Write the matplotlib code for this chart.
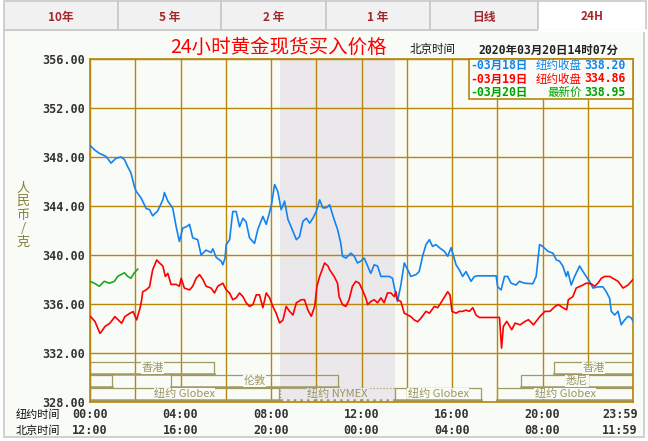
import matplotlib
matplotlib.use("Agg")
import matplotlib.pyplot as plt
from matplotlib.patches import Rectangle
from matplotlib.transforms import blended_transform_factory

plt.rcParams['font.family'] = ['Noto Sans CJK SC', 'DejaVu Sans']

# 03月18日 (blue), hours of New York time
t_blue = [0.00, 0.19, 0.41, 0.71, 0.93, 1.15, 1.37, 1.52, 1.67, 1.81, 1.96, 2.04, 2.26, 2.48, 2.63,
          2.77, 2.99, 3.22, 3.29, 3.44, 3.66, 3.81, 3.95, 4.10, 4.25, 4.40, 4.54, 4.76, 4.91, 5.13,
          5.35, 5.43, 5.58, 5.80, 5.87, 5.97, 6.02, 6.17, 6.31, 6.46, 6.61, 6.76, 6.90, 7.05, 7.27,
          7.42, 7.64, 7.79, 8.01, 8.16, 8.30, 8.45, 8.60, 8.75, 8.89, 9.12, 9.26, 9.41, 9.56, 9.71,
          9.85, 10.00, 10.15, 10.29, 10.44, 10.59, 10.79, 10.94, 11.08, 11.16, 11.31, 11.53, 11.68,
          11.82, 11.97, 12.12, 12.27, 12.41, 12.56, 12.71, 12.86, 13.08, 13.23, 13.37, 13.52, 13.59,
          13.74, 13.89, 14.04, 14.18, 14.41, 14.55, 14.70, 14.85, 15.00, 15.14, 15.29, 15.44, 15.66,
          15.81, 15.96, 16.03, 16.18, 16.32, 16.47, 16.62, 16.84, 16.99, 17.14, 17.95, 18.02, 18.17,
          18.32, 18.46, 18.61, 18.83, 18.98, 19.20, 19.57, 19.72, 19.87, 20.01, 20.24, 20.46, 20.61,
          20.75, 20.90, 21.05, 21.12, 21.27, 21.42, 21.64, 21.79, 21.93, 22.08, 22.23, 22.45, 22.67,
          22.82, 22.97, 23.04, 23.19, 23.34, 23.48, 23.63, 23.78, 23.93, 24.00]
v_blue = [348.95, 348.6, 348.3, 348.05, 347.5, 347.9, 348.0, 347.8, 347.2, 346.7, 345.6, 345.2, 344.65,
          343.8, 343.7, 343.2, 343.6, 344.5, 345.1, 344.4, 343.8, 342.3, 341.1, 342.2, 342.3, 342.5,
          341.4, 341.25, 340.0, 340.4, 340.2, 340.5, 339.8, 339.5, 339.2, 339.75, 340.85, 341.25,
          343.55, 343.55, 342.3, 343.0, 342.7, 341.4, 340.95, 342.1, 343.15, 342.5, 344.0, 345.75,
          345.2, 343.7, 344.4, 342.9, 342.3, 341.25, 341.5, 342.75, 343.0, 342.6, 343.0, 343.55,
          344.5, 343.85, 343.85, 344.1, 342.9, 342.1, 341.0, 339.9, 339.75, 340.15, 339.9, 339.35,
          339.5, 339.75, 339.1, 338.5, 339.2, 339.1, 338.25, 338.25, 338.25, 338.1, 336.75, 336.2,
          337.55, 339.35, 338.8, 338.25, 338.4, 338.65, 339.9, 340.85, 341.25, 340.7, 340.85, 340.6,
          340.3, 339.9, 340.6, 340.15, 339.2, 338.8, 338.25, 338.65, 337.85, 338.25, 338.3, 338.3,
          337.4, 337.15, 338.25, 338.25, 337.7, 337.55, 337.85, 337.7, 337.65, 338.25, 340.85, 340.7,
          340.3, 340.15, 339.6, 339.5, 339.1, 338.25, 338.65, 337.55, 338.25, 339.1, 338.65, 338.25,
          337.85, 337.3, 337.4, 337.4, 337.0, 336.45, 335.4, 335.1, 335.4, 334.3, 334.7, 335.0,
          334.85, 334.6]

# 03月19日 (red)
t_red = [0.03, 0.22, 0.44, 0.51, 0.66, 0.88, 1.10, 1.25, 1.40, 1.54, 1.76, 1.91, 2.06, 2.21, 2.28,
         2.33, 2.48, 2.63, 2.77, 2.95, 3.07, 3.22, 3.33, 3.44, 3.58, 3.81, 3.95, 4.03, 4.17, 4.40,
         4.54, 4.69, 4.84, 4.99, 5.13, 5.35, 5.50, 5.65, 5.87, 6.02, 6.17, 6.31, 6.46, 6.61, 6.76,
         6.90, 7.05, 7.20, 7.35, 7.49, 7.64, 7.79, 7.94, 8.08, 8.23, 8.38, 8.53, 8.67, 8.82, 8.97,
         9.12, 9.34, 9.48, 9.63, 9.78, 9.93, 10.03, 10.15, 10.37, 10.52, 10.59, 10.79, 10.94, 11.01,
         11.16, 11.31, 11.45, 11.60, 11.75, 11.90, 12.04, 12.19, 12.27, 12.41, 12.56, 12.71, 12.86,
         13.00, 13.15, 13.30, 13.45, 13.52, 13.59, 13.74, 13.89, 14.04, 14.18, 14.33, 14.48, 14.63,
         14.85, 15.00, 15.22, 15.37, 15.51, 15.73, 15.81, 15.91, 16.00, 16.18, 16.32, 16.47, 16.62,
         16.77, 16.92, 17.06, 17.21, 18.10, 18.19, 18.27, 18.42, 18.64, 18.79, 19.01, 19.23, 19.38,
         19.60, 19.89, 20.11, 20.33, 20.55, 20.70, 20.92, 21.07, 21.14, 21.34, 21.49, 21.79, 21.93,
         22.15, 22.30, 22.45, 22.60, 22.75, 22.97, 23.11, 23.34, 23.56, 23.78, 23.93, 24.00]
v_red = [334.97, 334.57, 333.6, 333.75, 334.16, 334.43, 334.97, 334.7, 334.43, 334.97, 335.24, 335.38,
         334.7, 335.65, 336.3, 337.0, 337.15, 337.4, 338.8, 339.6, 339.35, 339.1, 338.25, 338.5, 337.6,
         337.6, 337.45, 338.1, 337.3, 337.15, 337.45, 338.1, 338.4, 338.0, 337.45, 337.3, 336.9,
         337.45, 337.7, 337.15, 336.9, 336.35, 336.5, 336.9, 336.6, 336.1, 335.8, 335.95, 336.75,
         336.75, 335.7, 336.9, 336.5, 335.8, 335.25, 334.45, 334.7, 335.8, 335.4, 335.1, 336.1,
         336.35, 336.35, 335.5, 335.0, 335.8, 337.45, 338.25, 339.35, 339.1, 338.8, 338.25, 337.7,
         336.6, 335.95, 335.8, 336.35, 337.45, 337.85, 337.7, 337.15, 336.5, 335.95, 336.2, 336.35,
         336.1, 336.5, 336.1, 336.9, 336.9, 336.6, 337.0, 336.35, 336.2, 335.25, 335.1, 334.97,
         334.7, 334.55, 334.85, 335.4, 335.25, 335.8, 335.7, 336.1, 336.75, 337.0, 336.75, 335.4,
         335.25, 335.4, 335.4, 335.5, 335.4, 335.7, 335.1, 334.9, 334.9, 332.4, 334.17, 334.58,
         333.9, 334.44, 334.3, 334.58, 334.72, 334.3, 334.99, 335.4, 335.4, 335.8, 335.95, 335.67,
         335.53, 336.35, 336.6, 337.3, 337.55, 337.7, 337.65, 337.45, 337.7, 338.1, 338.25, 338.25,
         338.1, 337.85, 337.3, 337.55, 337.85, 338.0]

# 03月20日 (green)
t_green = [0.00, 0.19, 0.41, 0.63, 0.86, 1.08, 1.22, 1.37, 1.52, 1.67, 1.81, 1.96, 2.11]
v_green = [337.85, 337.7, 337.45, 337.85, 337.7, 337.85, 338.25, 338.4, 338.55, 338.25, 338.1,
           338.55, 338.85]

legend_dates = ['-03月18日', '-03月19日', '-03月20日']
legend_kinds = ['纽约收盘', '纽约收盘', '最新价']
legend_values = ['338.20', '334.86', '338.95']

ny_labels = ['00:00', '04:00', '08:00', '12:00', '16:00', '20:00', '23:59']
bj_labels = ['12:00', '16:00', '20:00', '00:00', '04:00', '08:00', '11:59']
label_hours = [0, 4, 8, 12, 16, 20, 24]

tabs = ['10年', '5 年', '2 年', '1 年', '日线', '24H']

# trading sessions: name, start, end, row (0 = top)
sess_name = ['香港', '', '伦敦', '纽约 Globex', '纽约 NYMEX', '纽约 Globex', '纽约 Globex', '悉尼', '香港']
sess_start = [0, 0, 3.6, 0, 8.4, 13.5, 18.0, 19.05, 20.5]
sess_end = [5.5, 0.97, 10.95, 8.35, 13.5, 17.3, 24, 24, 24]
sess_row = [0, 1, 1, 2, 2, 2, 2, 1, 0]
nymex = (8.4, 13.5)

bg = '#f9fbf7'
gold = '#b8860b'
olive = '#a09a62'
blue = '#1383f0'
red = '#ff0000'
green = '#1fa81f'

fig = plt.figure(figsize=(6.48, 4.41), dpi=100, facecolor='white')

# background panel + tabs (pixel coords)
back = fig.add_axes([0, 0, 1, 1], zorder=0)
back.set_xlim(0, 648)
back.set_ylim(441, 0)
back.axis('off')
back.add_patch(Rectangle((3.5, 30), 640, 407, facecolor=bg, edgecolor='#c8c8c8', lw=1.2))
tab_edges = [4, 118, 221, 326, 430, 538, 646]
for i, name in enumerate(tabs):
    active = i == len(tabs) - 1
    x0, x1 = tab_edges[i], tab_edges[i + 1]
    back.add_patch(Rectangle((x0, 0.5), x1 - x0, 29.5,
                             facecolor='white' if active else '#f1f1f1',
                             edgecolor='#c8c8c8', lw=1.2))
    back.text((x0 + x1) / 2, 17, name, ha='center', va='center', fontsize=8.5,
              fontweight='bold', color='#a3282c')
back.plot([tab_edges[-2] + 1, tab_edges[-1] - 1], [30, 30], color='white', lw=2)

ax = fig.add_axes([90 / 648, 39 / 441, 543 / 648, 343 / 441], zorder=1)
ax.set_facecolor(bg)
ax.set_xlim(0, 24)
ax.set_ylim(328, 356)

ax.axvspan(nymex[0], nymex[1], color='#ebe8ec', lw=0, zorder=0.2)
ax.set_xticks(range(0, 25, 2))
ax.set_xticklabels([])
ax.set_yticks(range(328, 357, 4))
ax.set_yticklabels(['%.2f' % v for v in range(328, 357, 4)], family='DejaVu Sans Mono',
                   fontweight='bold', fontsize=8.5, color='#333333')
ax.tick_params(length=0, pad=3.8)
ax.grid(True, color=gold, lw=1.0)
ax.set_axisbelow(True)
for s in ax.spines.values():
    s.set_color(gold)
    s.set_linewidth(1.2)

# session bars
row_bottom = [330.2, 329.15, 328.1]
row_h = 1.05
for name, s0, s1, r in zip(sess_name, sess_start, sess_end, sess_row):
    y0 = row_bottom[r]
    in_shade = s0 >= nymex[0] and s1 <= nymex[1]
    ls = ':' if in_shade else '-'
    ax.plot([s0, s0, s1, s1], [y0, y0 + row_h, y0 + row_h, y0], color=olive, lw=0.9, ls=ls, zorder=1.5)
    ax.plot([s0, s1], [y0 + 0.05, y0 + 0.05], color=olive, lw=1.8, ls=ls, zorder=1.5)
    if name:
        ax.text((s0 + s1) / 2, y0 + row_h * 0.55, name, ha='center', va='center', fontsize=8,
                color='#9a9460', zorder=1.6,
                bbox=dict(facecolor='#ebe8ec' if in_shade else bg, edgecolor='none', pad=0.3))

ax.plot(t_blue, v_blue, color=blue, lw=1.2, zorder=3)
ax.plot(t_red, v_red, color=red, lw=1.2, zorder=3)
ax.plot(t_green, v_green, color=green, lw=1.2, zorder=3)

# two rows of time labels
xt = blended_transform_factory(ax.transData, back.transData)
for h, ny, bj in zip(label_hours, ny_labels, bj_labels):
    ha = 'right' if h == 24 else 'center'
    x = h + 0.2 if h == 24 else h
    for txt, y in ((ny, 414), (bj, 431)):
        ax.text(x, y, txt, transform=xt, ha=ha, va='center', family='DejaVu Sans Mono',
                fontweight='bold', fontsize=8.5, color='#333333', clip_on=False)

# overlay texts
top = fig.add_axes([0, 0, 1, 1], zorder=2)
top.set_xlim(0, 648)
top.set_ylim(441, 0)
top.axis('off')
top.text(16, 414.5, '纽约时间', ha='left', va='center', fontsize=8, color='#111111')
top.text(16, 431, '北京时间', ha='left', va='center', fontsize=8, color='#111111')
top.text(23, 215, '人\n民\n币\n/\n克', ha='center', va='center', fontsize=9.5,
         linespacing=1.05, color='#86803e')
top.text(279, 47, '24小时黄金现货买入价格', ha='center', va='center', fontsize=14,
         color=red)
top.text(410, 50, '北京时间', ha='left', va='center', fontsize=8.3, color='#111111')
top.text(478, 50, '2020年03月20日14时07分', ha='left', va='center', fontsize=8.3,
         family=['DejaVu Sans Mono', 'Noto Sans CJK SC'], fontweight='bold', color='#222222')

top.add_patch(Rectangle((469, 59), 164, 40, facecolor=bg, edgecolor=gold, lw=1.2))
for i, (d, k, v, c) in enumerate(zip(legend_dates, legend_kinds, legend_values,
                                     [blue, red, '#00a000'])):
    y = 65.5 + i * 13.5
    top.text(470, y, d, ha='left', va='center', fontsize=8.3, color=c,
             family=['DejaVu Sans Mono', 'Noto Sans CJK SC'], fontweight='bold')
    top.text(582, y, k, ha='right', va='center', fontsize=8.3, color=c)
    top.text(584, y, v, ha='left', va='center', fontsize=8.3, color=c,
             family='DejaVu Sans Mono', fontweight='bold')

fig.savefig('out.png', dpi=100, facecolor='white')
